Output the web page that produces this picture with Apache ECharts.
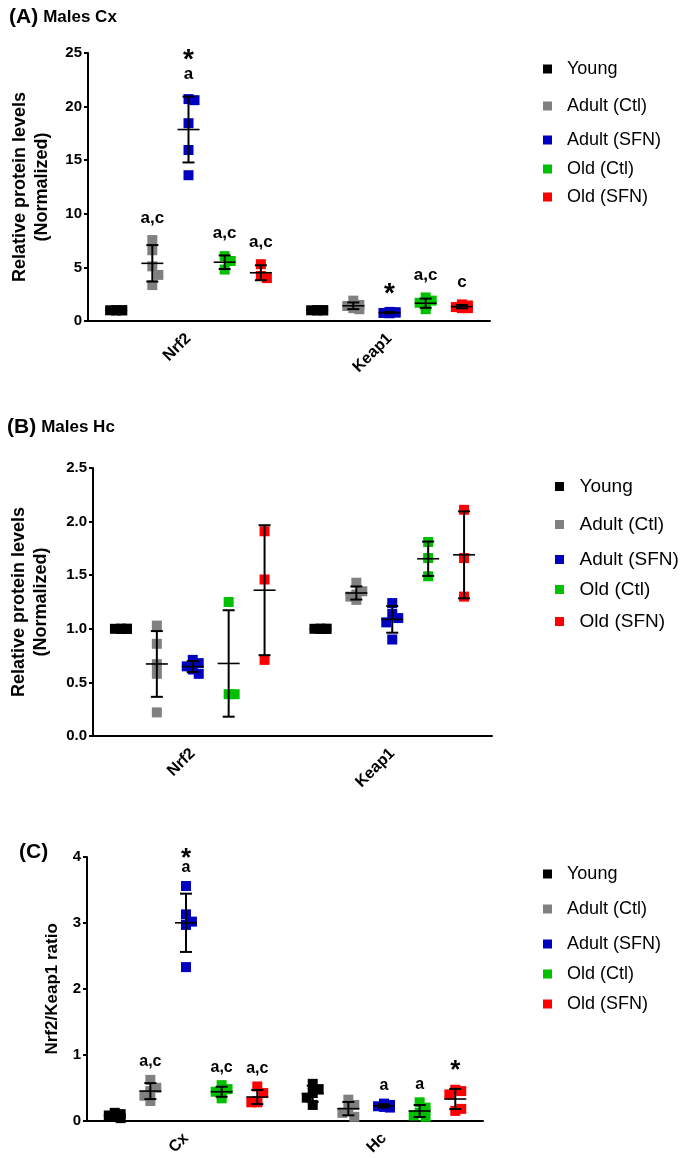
<!DOCTYPE html>
<html><head><meta charset="utf-8">
<script src="https://cdn.jsdelivr.net/npm/echarts@6/dist/echarts.min.js"></script>
<style>html,body{margin:0;padding:0;background:#fff}#c{width:685px;height:1158px}</style>
</head><body><div id="c"></div>
<script>
// ---------- DATA ----------
const groups = ['Young', 'Adult (Ctl)', 'Adult (SFN)', 'Old (Ctl)', 'Old (SFN)'];
const colors = ['#000000', '#808080', '#0000C0', '#00C000', '#FF0000'];

// Panel A: Males Cx (values per group, order = groups)
const catsA = ['Nrf2', 'Keap1'];
const A_Nrf2 = [
  [1.0, 1.0, 1.0, 1.0, 1.0],
  [7.55, 6.6, 5.1, 4.3, 3.35],
  [20.7, 20.6, 18.45, 15.95, 13.6],
  [6.05, 5.6, 4.8],
  [5.3, 4.2, 4.0]
];
const A_Keap1 = [
  [1.0, 1.0, 1.0, 1.0, 1.0],
  [1.9, 1.5, 1.4, 1.2, 1.1],
  [0.85, 0.8, 0.75, 0.72, 0.8],
  [2.2, 1.9, 1.7, 1.4, 1.1],
  [1.55, 1.45, 1.3, 1.2, 1.2]
];
const A_stars = [[0, 0, 1, 0, 0], [0, 0, 1, 0, 0]];
const A_letters = [['', 'a,c', 'a', 'a,c', 'a,c'], ['', '', '', 'a,c', 'c']];
const ticksA = [0, 5, 10, 15, 20, 25];

// Panel B: Males Hc
const catsB = ['Nrf2', 'Keap1'];
const B_Nrf2 = [
  [1.0, 1.0, 1.0, 1.0, 1.0],
  [1.03, 0.86, 0.67, 0.58, 0.22],
  [0.71, 0.68, 0.65, 0.62, 0.58],
  [1.25, 0.39, 0.39],
  [1.91, 1.46, 0.71]
];
const B_Keap1 = [
  [1.0, 1.0, 1.0, 1.0, 1.0],
  [1.43, 1.35, 1.32, 1.30, 1.27],
  [1.24, 1.14, 1.10, 1.06, 0.90],
  [1.81, 1.66, 1.49],
  [2.11, 1.66, 1.30]
];
const ticksB = ['0.0', '0.5', '1.0', '1.5', '2.0', '2.5'];

// Panel C: Nrf2/Keap1 ratio
const catsC = ['Cx', 'Hc'];
const C_Cx = [
  [0.12, 0.10, 0.08, 0.06, 0.04],
  [0.62, 0.50, 0.45, 0.38, 0.30],
  [3.56, 3.13, 3.02, 2.97, 2.33],
  [0.54, 0.48, 0.44, 0.40, 0.34],
  [0.52, 0.42, 0.30, 0.28, 0.28]
];
const C_Hc = [
  [0.56, 0.48, 0.42, 0.35, 0.24],
  [0.32, 0.24, 0.18, 0.12, 0.06],
  [0.26, 0.24, 0.22, 0.21, 0.20],
  [0.28, 0.20, 0.12, 0.08, 0.06],
  [0.47, 0.45, 0.40, 0.15, 0.18]
];
const C_stars = [[0, 0, 1, 0, 0], [0, 0, 0, 0, 1]];
const C_letters = [['', 'a,c', 'a', 'a,c', 'a,c'], ['', '', 'a', 'a', '']];
const ticksC = [0, 1, 2, 3, 4];

// ---------- LAYOUT / STYLE ----------
const FONT = '"Liberation Sans", Arial, sans-serif';
const groupOffsets = [-0.36, -0.18, 0, 0.18, 0.36];
const JIT = 0.03;

const panels = [
  { cats: catsA, data: [A_Nrf2, A_Keap1], ticks: ticksA, stars: A_stars, letters: A_letters,
    yName: 'Relative protein levels\n(Normalized)', nameGap: 35, nameSize: 18,
    grid: { left: 88, top: 53, width: 402, height: 268 },
    annFont: 17, starFont: 28, letterGap: 17, starAfterLetter: 22, starGap: 20,
    title: '{a|(A)} {b|Males Cx}', titleLeft: 4, titleTop: 2,
    legLeft: 543, legY: [68, 105, 139, 168, 196], legFont: 18 },
  { cats: catsB, data: [B_Nrf2, B_Keap1], ticks: ticksB, stars: null, letters: null,
    yName: 'Relative protein levels\n(Normalized)', nameGap: 41, nameSize: 18,
    grid: { left: 88, top: 468, width: 404, height: 268 },
    title: '{a|(B)} {b|Males Hc}', titleLeft: 2, titleTop: 412,
    legLeft: 555, legY: [485, 523, 558, 588, 620], legFont: 19 },
  { cats: catsC, data: [C_Cx, C_Hc], ticks: ticksC, stars: C_stars, letters: C_letters,
    yName: 'Nrf2/Keap1 ratio', nameGap: 24, nameSize: 17,
    grid: { left: 87, top: 857, width: 396, height: 264 },
    annFont: 16, starFont: 26, letterGap: 13, starAfterLetter: 16, starGap: 20,
    title: '{a|(C)}', titleLeft: 14, titleTop: 837,
    legLeft: 543, legY: [873, 908, 943, 973, 1003], legFont: 18 }
];

function jitter(vals, thr) {
  const offs = [];
  const seq = [0, 1, -1];
  vals.forEach((v, i) => {
    let best = 0, bestC = Infinity;
    for (const k of seq) {
      let c = 0;
      for (let j = 0; j < i; j++) if (Math.abs(vals[j] - v) < thr && offs[j] === k) c++;
      if (c < bestC) { bestC = c; best = k; }
      if (c === 0) break;
    }
    offs.push(best);
  });
  return offs;
}
function mean(a) { return a.reduce((s, v) => s + v, 0) / a.length; }
function sd(a) { const m = mean(a); return a.length > 1 ? Math.sqrt(a.reduce((s, v) => s + (v - m) * (v - m), 0) / (a.length - 1)) : 0; }

const option = { animation: false, backgroundColor: '#fff', grid: [], xAxis: [], yAxis: [], series: [], legend: [], title: [] };

panels.forEach((P, p) => {
  const yMin = Number(P.ticks[0]), yMax = Number(P.ticks[P.ticks.length - 1]);
  const yInt = Number(P.ticks[1]) - Number(P.ticks[0]);
  option.grid.push(Object.assign({ containLabel: false }, P.grid));
  option.title.push({ text: P.title, left: P.titleLeft, top: P.titleTop,
    textStyle: { rich: { a: { fontFamily: FONT, fontWeight: 'bold', fontSize: 21, color: '#000' },
                         b: { fontFamily: FONT, fontWeight: 'bold', fontSize: 17, color: '#000' } } } });
  option.xAxis.push({ type: 'category', gridIndex: p, data: P.cats,
    axisLine: { onZero: false, lineStyle: { color: '#000', width: 2 } },
    axisTick: { alignWithLabel: true, length: 5, lineStyle: { color: '#000', width: 2 } },
    axisLabel: { rotate: 45, margin: 15, color: '#000', fontFamily: FONT, fontWeight: 'bold', fontSize: 16 },
    splitLine: { show: false } });
  option.xAxis.push({ type: 'value', gridIndex: p, min: -0.5, max: 1.5, show: false, splitLine: { show: false } });
  option.yAxis.push({ type: 'value', gridIndex: p, min: yMin, max: yMax, interval: yInt,
    name: P.yName, nameLocation: 'middle', nameRotate: 90, nameGap: P.nameGap, nameMoveOverlap: false,
    nameTextStyle: { fontFamily: FONT, fontWeight: 'bold', fontSize: P.nameSize, color: '#000', lineHeight: 22 },
    axisLine: { show: true, onZero: false, lineStyle: { color: '#000', width: 2 } },
    axisTick: { show: true, length: 4, lineStyle: { color: '#000', width: 2 } },
    axisLabel: { margin: 6, color: '#000', fontFamily: FONT, fontWeight: 'bold', fontSize: 15,
      formatter: v => { const i = P.ticks.findIndex(t => Math.abs(Number(t) - v) < 1e-9); return i >= 0 ? String(P.ticks[i]) : ''; } },
    splitLine: { show: false } });

  groups.forEach((g, gi) => {
    const pts = [];
    P.cats.forEach((c, ci) => {
      const vals = P.data[ci][gi];
      const offs = jitter(vals, (yMax - yMin) * 0.035);
      vals.forEach((v, k) => pts.push([ci + groupOffsets[gi] + offs[k] * JIT, v]));
    });
    option.series.push({ type: 'scatter', name: g, xAxisIndex: 2 * p + 1, yAxisIndex: p, data: pts,
      symbol: 'rect', symbolSize: 10, itemStyle: { color: colors[gi], opacity: 1 }, z: 2, silent: true });

    const errData = P.cats.map((c, ci) => {
      const vals = P.data[ci][gi];
      const m = mean(vals), s = sd(vals);
      return [ci + groupOffsets[gi], m, s, Math.max(Math.max(...vals), m + s), ci];
    });
    option.series.push({ type: 'custom', name: 'sd' + p + '_' + gi, xAxisIndex: 2 * p + 1, yAxisIndex: p,
      data: errData, z: 5, silent: true, clip: false,
      renderItem: (params, api) => {
        const x = api.value(0), m = api.value(1), s = api.value(2), top = api.value(3), ci = api.value(4);
        const pm = api.coord([x, m]);
        const ph = api.coord([x, m + s]);
        const pl = api.coord([x, m - s]);
        const ls = { stroke: '#000', lineWidth: 2 };
        const ch = [];
        if (s > 0) {
          ch.push({ type: 'line', shape: { x1: pm[0], y1: ph[1], x2: pm[0], y2: pl[1] }, style: ls });
          ch.push({ type: 'line', shape: { x1: pm[0] - 6, y1: ph[1], x2: pm[0] + 6, y2: ph[1] }, style: ls });
          ch.push({ type: 'line', shape: { x1: pm[0] - 6, y1: pl[1], x2: pm[0] + 6, y2: pl[1] }, style: ls });
        }
        ch.push({ type: 'line', shape: { x1: pm[0] - 11, y1: pm[1], x2: pm[0] + 11, y2: pm[1] }, style: { stroke: '#000', lineWidth: 1.6 } });
        if (P.letters) {
          const topPx = Math.min(api.coord([x, top])[1], ph[1]) - 5;
          const let_ = P.letters[ci][gi];
          const star = P.stars[ci][gi];
          let starY = topPx - P.starGap;
          if (let_) {
            const ly = topPx - P.letterGap;
            ch.push({ type: 'text', style: { text: let_, x: pm[0], y: ly, align: 'center', verticalAlign: 'middle',
              font: 'bold ' + P.annFont + 'px ' + FONT, fill: '#000' } });
            starY = ly - P.starAfterLetter;
          }
          if (star) {
            ch.push({ type: 'text', style: { text: '*', x: pm[0], y: starY + P.starFont * 0.28, align: 'center', verticalAlign: 'middle',
              font: 'bold ' + P.starFont + 'px ' + FONT, fill: '#000' } });
          }
        }
        return { type: 'group', children: ch };
      } });

    option.legend.push({ data: [g], left: P.legLeft, top: P.legY[gi] - 8, padding: 0,
      icon: 'rect', itemWidth: 9, itemHeight: 9, selectedMode: false,
      formatter: n => '  ' + n,
      textStyle: { fontFamily: FONT, fontSize: P.legFont, color: '#000' } });
  });
});

const chart = echarts.init(document.getElementById('c'), null, { renderer: 'canvas', width: 685, height: 1158 });
chart.setOption(option);
</script>
</body></html>
